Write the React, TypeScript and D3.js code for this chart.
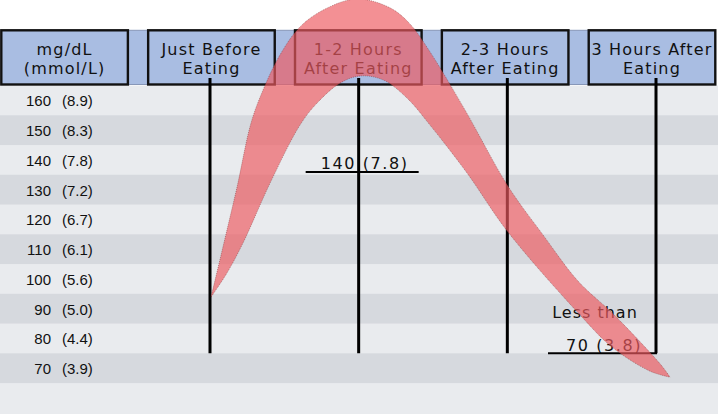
import React from "react";
import * as d3 from "d3";

const W = 718;
const H = 414;

// Header labels (two lines each)
const headerLine1 = ["mg/dL", "Just Before", "1-2 Hours", "2-3 Hours", "3 Hours After"];
const headerLine2 = ["(mmol/L)", "Eating", "After Eating", "After Eating", "Eating"];

// Stages (x positions of vertical lines)
const stages = ["Just Before Eating", "1-2 Hours After Eating", "2-3 Hours After Eating", "3 Hours After Eating"];

// Row labels
const mgdlValues = [160, 150, 140, 130, 120, 110, 100, 90, 80, 70];
const mmolLabels = ["(8.9)", "(8.3)", "(7.8)", "(7.2)", "(6.7)", "(6.1)", "(5.6)", "(5.0)", "(4.4)", "(3.9)"];

// Glucose curve ribbon edges: [stage index, mg/dL]
const ribbonOuter: [number, number][] = [
  [0.007, 93.9], [0.087, 110.7], [0.182, 130.9], [0.276, 152.4], [0.357, 163.5],
  [0.471, 175.3], [0.605, 184.7], [0.774, 190.7], [0.989, 194.1], [1.211, 191.1],
  [1.345, 185.7], [1.48, 176.3], [1.715, 156.8], [2.004, 131.2], [2.24, 114.8],
  [2.475, 99.3], [2.704, 88.6], [2.926, 77.1], [3.04, 70.7], [3.094, 67.0],
];
const ribbonInner: [number, number][] = [
  [3.094, 67.0], [2.96, 69.0], [2.704, 77.1], [2.489, 87.9], [2.004, 115.8],
  [1.729, 135.6], [1.48, 151.7], [1.325, 160.8], [1.164, 166.9], [1.009, 168.2],
  [0.874, 165.8], [0.72, 159.1], [0.605, 151.7], [0.404, 132.2], [0.222, 112.1],
  [0.114, 102.0], [0.007, 93.9],
];

// Target annotations
const targetStages = [1, 3];
const targetLine1 = ["", "Less than"];
const targetLine2 = ["140 (7.8)", "70 (3.8)"];
const targetValues = [140, 70];

export default function App() {
  const y = d3.scaleLinear().domain([160, 70]).range([100.4, 368.2]);
  const rowH = y(150) - y(160);
  const x = d3.scaleLinear().domain([0, 3]).range([210, 656]);
  const hb = d3
    .scaleBand<number>()
    .domain(headerLine1.map((_, i) => i))
    .range([1.3, 715.3])
    .paddingInner(0.138)
    .paddingOuter(0);
  const bw = hb.bandwidth();

  const line = d3
    .line<[number, number]>()
    .x((d) => x(d[0]))
    .y((d) => y(d[1]))
    .curve(d3.curveCatmullRom.alpha(0.5));
  const ribbonPath = (line(ribbonOuter) || "") + (line(ribbonInner) || "").replace(/^M/, "L") + "Z";

  const headerTop = 30.3;
  const headerBottom = 84.5;
  const rowsTop = y(160) - rowH / 2;

  return (
    <svg width={W} height={H} style={{ position: "absolute", left: 0, top: 0 }} xmlns="http://www.w3.org/2000/svg">
      <rect x={0} y={0} width={W} height={H} fill="#ffffff" />
      {/* row stripes */}
      <rect x={0} y={rowsTop} width={W} height={H - rowsTop} fill="#e9ebee" />
      {mgdlValues.map((v, i) =>
        i % 2 === 1 ? (
          <rect key={"s" + v} x={0} y={y(v) - rowH / 2} width={W} height={rowH} fill="#d6d9de" />
        ) : null
      )}
      {/* row labels */}
      {mgdlValues.map((v, i) => (
        <g key={"l" + v} fontFamily="'Liberation Sans', Arial, sans-serif" fontSize={15} fill="#111">
          <text x={51} y={y(v) + 6} textAnchor="end">{v}</text>
          <text x={62} y={y(v) + 6}>{mmolLabels[i]}</text>
        </g>
      ))}
      {/* header */}
      <rect x={1.3} y={headerTop} width={714} height={headerBottom - headerTop} fill="#a9bde2" stroke="#8797b8" strokeWidth={1} />
      {headerLine1.map((t, i) => {
        const bx = hb(i) as number;
        return (
          <g key={"h" + i}>
            <rect x={bx} y={headerTop} width={bw} height={headerBottom - headerTop} fill="#a9bde2" stroke="#111" strokeWidth={2.4} />
            <text x={bx + bw / 2} y={55} textAnchor="middle" fontFamily="'DejaVu Sans', Verdana, sans-serif" fontSize={16} letterSpacing={1.2} fill="#111">{t}</text>
            <text x={bx + bw / 2} y={74} textAnchor="middle" fontFamily="'DejaVu Sans', Verdana, sans-serif" fontSize={16} letterSpacing={1.2} fill="#111">{headerLine2[i]}</text>
          </g>
        );
      })}
      {/* stage vertical lines */}
      {stages.map((s, i) => (
        <line key={s} x1={x(i)} x2={x(i)} y1={78} y2={y(75)} stroke="#000" strokeWidth={3} />
      ))}
      {/* target annotations */}
      {targetStages.map((st, i) => {
        const isLast = i === 1;
        const cx = isLast ? x(st) - 53 : x(st) + 2;
        const uy = isLast ? y(75) : y(targetValues[i]) + 12;
        return (
          <g key={"t" + i} fontFamily="'DejaVu Sans', Verdana, sans-serif" fontSize={16} fill="#111">
            {targetLine1[i] ? (
              <text x={cx - 8} y={318} textAnchor="middle" letterSpacing={1}>{targetLine1[i]}</text>
            ) : null}
            <text x={isLast ? cx + 1 : cx + 4} y={uy - 2.5} textAnchor="middle" letterSpacing={isLast ? 1.6 : 1.6}>{targetLine2[i]}</text>
            <line x1={isLast ? 548 : cx - 55} x2={isLast ? x(st) + 1 : cx + 58} y1={uy} y2={uy} stroke="#000" strokeWidth={2} />
          </g>
        );
      })}
      {/* glucose ribbon */}
      <path d={ribbonPath} fill="rgb(237,89,96)" fillOpacity={0.67} stroke="rgba(110,40,40,0.55)" strokeWidth={0.8} strokeDasharray="1 1" />
    </svg>
  );
}
